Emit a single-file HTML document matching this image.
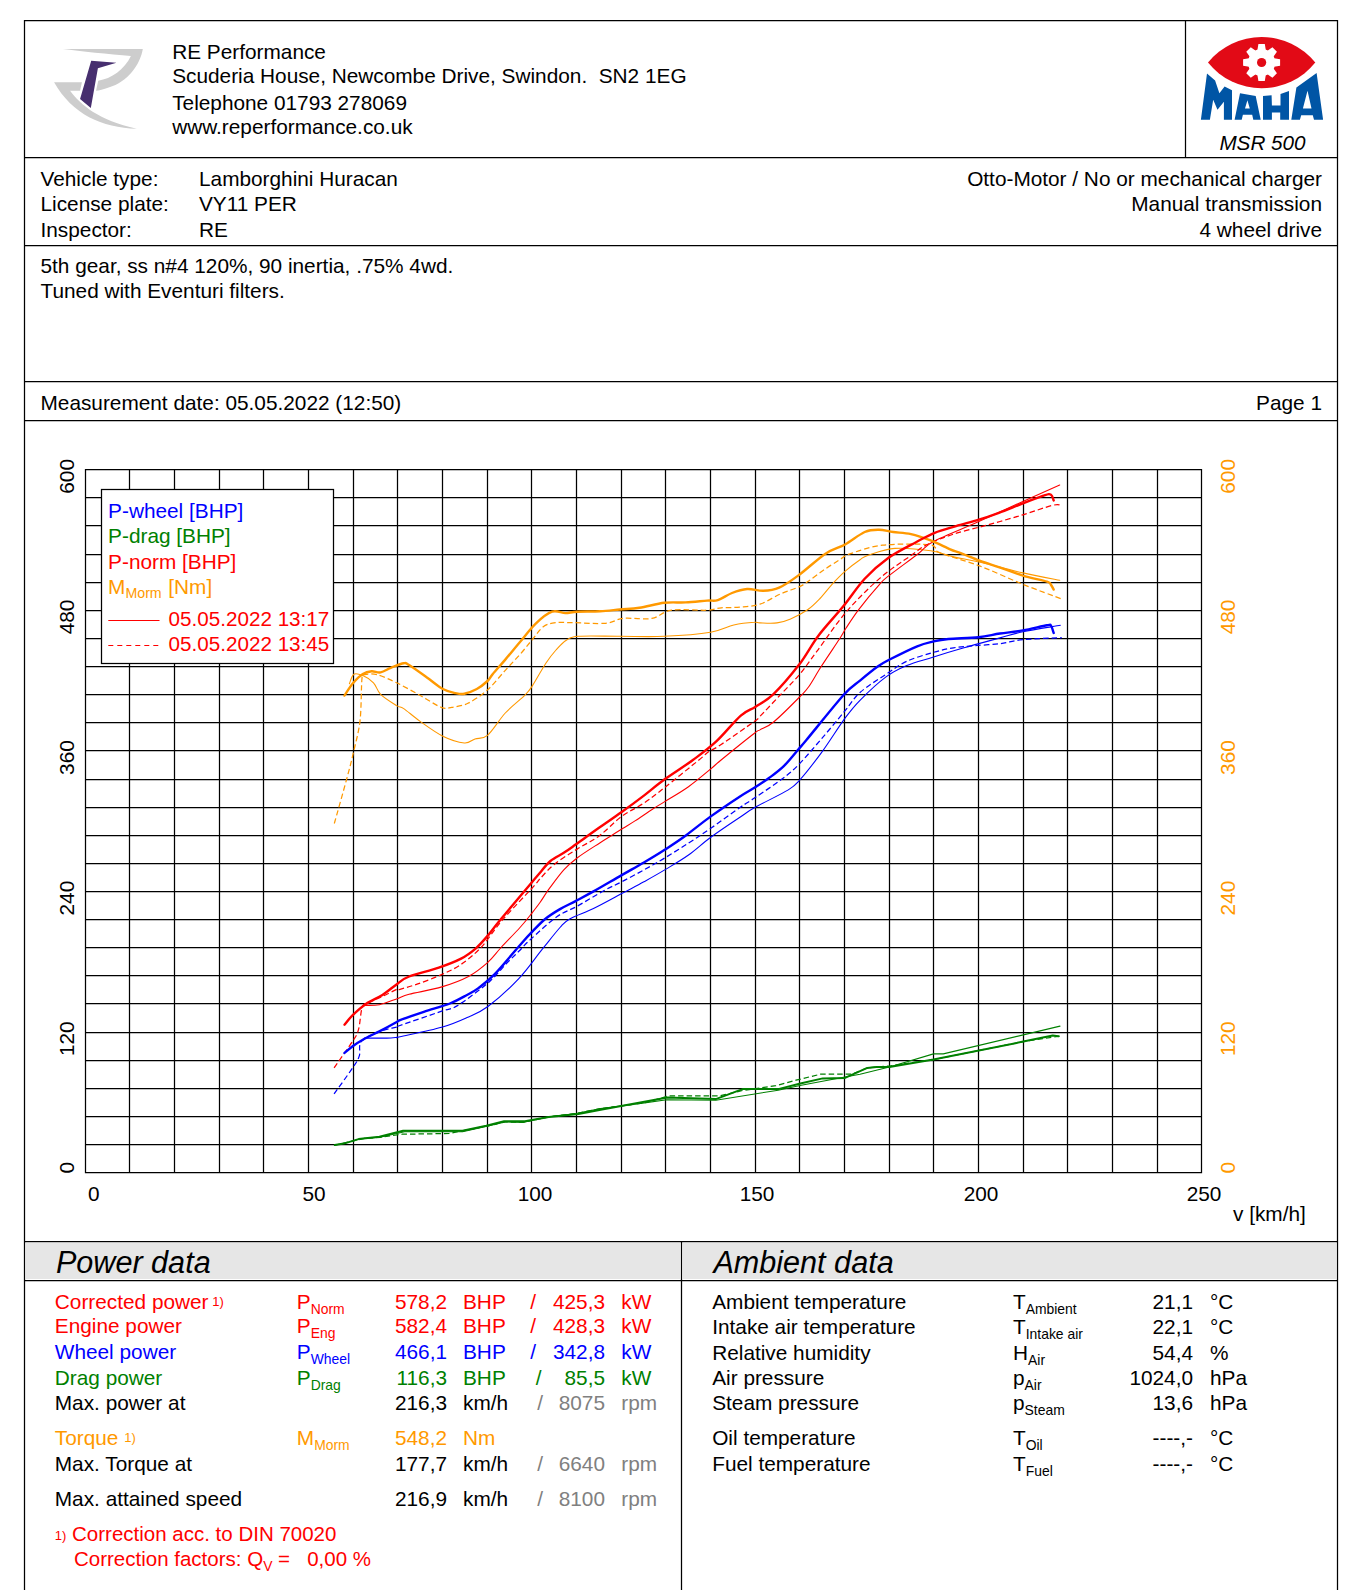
<!DOCTYPE html>
<html><head><meta charset="utf-8"><style>html,body{margin:0;padding:0;background:#fff;width:1347px;height:1590px;overflow:hidden}svg{display:block}text{font-family:"Liberation Sans",sans-serif}</style></head>
<body><svg width="1347" height="1590" viewBox="0 0 1347 1590" font-family="Liberation Sans, sans-serif"><rect x="26" y="1243" width="654" height="36" fill="#e6e6e6"/>
<rect x="683" y="1243" width="653" height="36" fill="#e6e6e6"/>
<line x1="24" y1="20.5" x2="1338" y2="20.5" stroke="#000" stroke-width="1.25"/>
<line x1="24" y1="157.5" x2="1338" y2="157.5" stroke="#000" stroke-width="1.25"/>
<line x1="24" y1="245.5" x2="1338" y2="245.5" stroke="#000" stroke-width="1.25"/>
<line x1="24" y1="381.5" x2="1338" y2="381.5" stroke="#000" stroke-width="1.25"/>
<line x1="24" y1="420.5" x2="1338" y2="420.5" stroke="#000" stroke-width="1.25"/>
<line x1="24" y1="1241.5" x2="1338" y2="1241.5" stroke="#000" stroke-width="1.25"/>
<line x1="24" y1="1280.5" x2="1338" y2="1280.5" stroke="#000" stroke-width="1.25"/>
<line x1="24.5" y1="20" x2="24.5" y2="1590" stroke="#000" stroke-width="1.25"/>
<line x1="1337.5" y1="20" x2="1337.5" y2="1590" stroke="#000" stroke-width="1.25"/>
<line x1="1185.5" y1="20.5" x2="1185.5" y2="157.5" stroke="#000" stroke-width="1.25"/>
<line x1="681.5" y1="1241" x2="681.5" y2="1590" stroke="#000" stroke-width="1.25"/>
<text x="172.2" y="58.8" font-size="20.8" fill="#000">RE Performance</text>
<text x="172.2" y="83.3" font-size="20.8" fill="#000">Scuderia House, Newcombe Drive, Swindon.&#160; SN2 1EG</text>
<text x="172.2" y="110.2" font-size="20.8" fill="#000">Telephone 01793 278069</text>
<text x="172.2" y="134.2" font-size="20.8" fill="#000">www.reperformance.co.uk</text>
<text x="40.5" y="185.8" font-size="20.8" fill="#000">Vehicle type:</text>
<text x="199" y="185.8" font-size="20.8" fill="#000">Lamborghini Huracan</text>
<text x="40.5" y="210.8" font-size="20.8" fill="#000">License plate:</text>
<text x="199" y="210.8" font-size="20.8" fill="#000">VY11 PER</text>
<text x="40.5" y="236.6" font-size="20.8" fill="#000">Inspector:</text>
<text x="199" y="236.6" font-size="20.8" fill="#000">RE</text>
<text x="1322" y="185.8" font-size="20.8" fill="#000" text-anchor="end">Otto-Motor / No or mechanical charger</text>
<text x="1322" y="210.8" font-size="20.8" fill="#000" text-anchor="end">Manual transmission</text>
<text x="1322" y="236.6" font-size="20.8" fill="#000" text-anchor="end">4 wheel drive</text>
<text x="40.5" y="273" font-size="20.8" fill="#000">5th gear, ss n#4 120%, 90 inertia, .75% 4wd.</text>
<text x="40.5" y="298.1" font-size="20.8" fill="#000">Tuned with Eventuri filters.</text>
<text x="40.5" y="409.8" font-size="20.8" fill="#000">Measurement date: 05.05.2022 (12:50)</text>
<text x="1322" y="409.8" font-size="20.8" fill="#000" text-anchor="end">Page 1</text>
<path d="M85.5 469.5V1172.5M129.5 469.5V1172.5M174.5 469.5V1172.5M219.5 469.5V1172.5M263.5 469.5V1172.5M308.5 469.5V1172.5M353.5 469.5V1172.5M397.5 469.5V1172.5M442.5 469.5V1172.5M487.5 469.5V1172.5M531.5 469.5V1172.5M576.5 469.5V1172.5M621.5 469.5V1172.5M665.5 469.5V1172.5M710.5 469.5V1172.5M755.5 469.5V1172.5M799.5 469.5V1172.5M844.5 469.5V1172.5M889.5 469.5V1172.5M933.5 469.5V1172.5M978.5 469.5V1172.5M1023.5 469.5V1172.5M1067.5 469.5V1172.5M1112.5 469.5V1172.5M1157.5 469.5V1172.5M1201.5 469.5V1172.5M85.5 469.5H1201.5M85.5 497.5H1201.5M85.5 525.5H1201.5M85.5 554.5H1201.5M85.5 582.5H1201.5M85.5 610.5H1201.5M85.5 638.5H1201.5M85.5 666.5H1201.5M85.5 694.5H1201.5M85.5 722.5H1201.5M85.5 750.5H1201.5M85.5 779.5H1201.5M85.5 807.5H1201.5M85.5 835.5H1201.5M85.5 863.5H1201.5M85.5 891.5H1201.5M85.5 919.5H1201.5M85.5 947.5H1201.5M85.5 975.5H1201.5M85.5 1003.5H1201.5M85.5 1032.5H1201.5M85.5 1060.5H1201.5M85.5 1088.5H1201.5M85.5 1116.5H1201.5M85.5 1144.5H1201.5M85.5 1172.5H1201.5" stroke="#000" stroke-width="1.25" fill="none" stroke-linecap="square"/>
<text x="93.8" y="1200.5" font-size="20.8" fill="#000" text-anchor="middle">0</text>
<text x="314" y="1200.5" font-size="20.8" fill="#000" text-anchor="middle">50</text>
<text x="535" y="1200.5" font-size="20.8" fill="#000" text-anchor="middle">100</text>
<text x="757" y="1200.5" font-size="20.8" fill="#000" text-anchor="middle">150</text>
<text x="981" y="1200.5" font-size="20.8" fill="#000" text-anchor="middle">200</text>
<text x="1204" y="1200.5" font-size="20.8" fill="#000" text-anchor="middle">250</text>
<text x="1233" y="1221" font-size="20.8" fill="#000">v [km/h]</text>
<text transform="translate(74,1162.0) rotate(-90)" font-size="20.8" text-anchor="end">0</text>
<text transform="translate(1235,1162.0) rotate(-90)" font-size="20.8" fill="#ff9900" text-anchor="end">0</text>
<text transform="translate(74,1021.4) rotate(-90)" font-size="20.8" text-anchor="end">120</text>
<text transform="translate(1235,1021.4) rotate(-90)" font-size="20.8" fill="#ff9900" text-anchor="end">120</text>
<text transform="translate(74,880.8) rotate(-90)" font-size="20.8" text-anchor="end">240</text>
<text transform="translate(1235,880.8) rotate(-90)" font-size="20.8" fill="#ff9900" text-anchor="end">240</text>
<text transform="translate(74,740.2) rotate(-90)" font-size="20.8" text-anchor="end">360</text>
<text transform="translate(1235,740.2) rotate(-90)" font-size="20.8" fill="#ff9900" text-anchor="end">360</text>
<text transform="translate(74,599.6) rotate(-90)" font-size="20.8" text-anchor="end">480</text>
<text transform="translate(1235,599.6) rotate(-90)" font-size="20.8" fill="#ff9900" text-anchor="end">480</text>
<text transform="translate(74,459.0) rotate(-90)" font-size="20.8" text-anchor="end">600</text>
<text transform="translate(1235,459.0) rotate(-90)" font-size="20.8" fill="#ff9900" text-anchor="end">600</text>
<g fill="none" stroke-linejoin="round" stroke-linecap="round">
<path d="M349.4 683.7 C350.1 682.1 351.7 675.6 353.9 674.2 C356.1 672.9 359.5 674.2 362.8 675.6 C366.1 677.0 370.5 679.7 373.5 682.8 C376.5 685.9 376.8 690.5 380.6 694.3 C384.5 698.1 392.8 703.2 396.6 705.6 C400.5 708.0 399.8 706.0 403.7 708.6 C407.6 711.2 413.3 716.5 419.8 721.1 C426.3 725.7 435.5 732.6 442.9 736.2 C450.3 739.9 458.9 742.5 464.3 743.0 C469.7 743.5 471.1 740.2 475.0 738.9 C478.9 737.6 482.4 739.6 487.5 735.3 C492.6 731.0 499.1 719.7 505.3 713.0 C511.5 706.3 520.4 699.8 524.9 695.2 C529.4 690.6 529.0 691.0 532.5 685.6 C536.0 680.2 542.1 668.9 546.0 663.0 C549.9 657.1 552.6 653.8 556.0 650.0 C559.4 646.2 562.5 642.5 566.3 640.2 C570.1 637.9 569.9 636.9 578.8 636.3 C587.7 635.6 605.5 636.3 619.8 636.3 C634.0 636.3 649.2 637.0 664.3 636.3 C679.4 635.6 699.0 634.1 710.6 632.2 C722.2 630.3 726.5 626.6 733.8 625.0 C741.1 623.4 749.9 622.6 754.3 622.3 C758.7 621.9 756.2 622.8 760.0 622.9 C763.8 623.0 771.9 623.6 777.0 622.9 C782.1 622.2 785.5 621.1 790.6 618.9 C795.7 616.7 802.7 613.2 807.6 609.8 C812.5 606.4 815.7 603.0 820.0 598.5 C824.3 594.0 829.4 587.1 833.6 582.6 C837.8 578.1 840.6 575.1 845.0 571.3 C849.4 567.5 855.8 562.7 859.7 560.0 C863.6 557.3 862.4 557.1 868.3 555.2 C874.2 553.3 884.6 549.1 895.0 548.4 C905.4 547.7 921.0 549.4 930.7 550.8 C940.5 552.2 945.2 555.0 953.5 556.9 C961.8 558.8 968.6 559.5 980.2 562.2 C991.8 564.9 1009.6 569.9 1022.9 572.9 C1036.2 575.9 1053.6 579.1 1059.7 580.3" stroke="#ff9900" stroke-width="1.1"/>
<path d="M364.5 1005.4 C367.0 1005.3 373.9 1005.8 379.4 1004.7 C384.8 1003.6 392.2 1000.4 397.2 998.7 C402.1 997.0 401.7 996.3 409.1 994.3 C416.5 992.3 431.9 989.9 441.8 986.9 C451.7 983.9 460.8 980.6 468.5 976.5 C476.2 972.4 482.4 967.2 487.8 962.4 C493.2 957.6 495.7 953.3 501.1 947.5 C506.5 941.7 515.0 933.0 520.0 927.5 C525.0 922.0 527.6 918.6 530.9 914.4 C534.2 910.2 537.0 906.7 540.0 902.5 C543.0 898.3 544.9 894.6 548.9 889.2 C552.9 883.8 559.1 875.1 563.8 869.9 C568.5 864.7 571.2 862.5 577.1 858.0 C583.0 853.5 593.7 846.9 599.4 843.2 C605.1 839.5 607.3 838.2 611.3 835.7 C615.2 833.2 619.1 830.8 623.1 828.3 C627.1 825.8 630.0 824.1 635.0 820.9 C640.0 817.7 647.8 812.2 652.8 809.0 C657.8 805.8 658.8 805.3 664.7 801.6 C670.7 797.9 680.8 792.2 688.5 786.7 C696.2 781.2 705.4 773.4 710.8 768.9 C716.2 764.4 713.9 765.9 721.1 760.0 C728.3 754.1 747.6 738.5 754.1 733.5 C760.6 728.5 756.8 731.8 760.0 729.9 C763.2 728.0 767.0 727.5 773.6 722.0 C780.2 716.5 793.8 702.9 799.6 697.0 C805.5 691.1 805.1 691.9 808.7 686.8 C812.3 681.7 816.1 674.4 821.2 666.5 C826.3 658.6 835.1 645.7 839.3 639.3 C843.4 632.9 842.9 632.9 846.1 628.0 C849.3 623.1 852.9 617.2 858.5 609.8 C864.1 602.4 874.8 589.6 880.0 583.8 C885.2 578.0 883.3 580.1 889.7 575.1 C896.1 570.1 910.9 559.3 918.2 553.7 C925.5 548.1 923.3 546.9 933.4 541.5 C943.5 536.1 963.9 528.2 978.8 521.5 C993.7 514.8 1009.4 507.5 1022.9 501.4 C1036.4 495.3 1053.6 487.7 1059.7 485.0" stroke="#ff0000" stroke-width="1.1"/>
<path d="M364.5 1038.1 C368.2 1038.1 381.4 1038.2 386.8 1038.1 C392.2 1038.0 395.0 1037.5 397.2 1037.3 C399.4 1037.1 392.6 1038.5 400.0 1036.8 C407.4 1035.1 430.5 1030.5 441.6 1027.3 C452.7 1024.1 458.8 1021.3 466.5 1017.8 C474.2 1014.3 479.2 1013.0 487.9 1006.5 C496.6 1000.0 509.7 988.2 518.8 978.6 C527.9 969.0 535.6 957.4 542.5 948.9 C549.4 940.4 555.5 932.5 560.0 927.5 C564.5 922.5 564.1 922.1 569.7 918.9 C575.3 915.7 584.8 912.7 593.5 908.5 C602.2 904.3 613.3 898.1 621.7 893.6 C630.1 889.1 636.7 885.8 643.9 881.8 C651.1 877.8 657.3 874.4 664.7 869.9 C672.1 865.4 680.8 860.5 688.5 855.0 C696.2 849.5 702.2 843.5 710.8 837.2 C719.4 830.9 732.5 822.2 740.0 817.2 C747.5 812.2 747.6 811.5 755.6 807.0 C763.6 802.5 780.9 794.5 788.3 789.9 C795.7 785.3 794.5 785.9 800.2 779.5 C805.9 773.1 815.0 761.4 822.4 751.3 C829.8 741.1 838.4 727.1 844.7 718.6 C851.0 710.1 853.1 707.2 860.0 700.3 C866.9 693.3 878.2 682.7 886.0 676.9 C893.8 671.1 899.0 668.8 906.8 665.5 C914.6 662.2 923.3 660.2 932.8 657.2 C942.3 654.2 952.8 651.0 964.0 647.8 C975.2 644.6 990.2 640.6 1000.0 637.9 C1009.8 635.2 1012.8 633.8 1022.9 631.7 C1033.0 629.6 1054.2 626.4 1060.4 625.3" stroke="#0000ff" stroke-width="1.1"/>
<path d="M364.5 1138.4 L380.1 1137.3 L404.6 1131.8 L462.5 1131.8 L489.3 1125.7 L504.9 1121.9 L522.7 1122.4 L549.4 1116.8 L576.1 1113.5 L600.6 1108.6 L622.3 1105.8 L644.5 1102.9 L666.8 1099.7 L715.8 1100.2 L778.2 1090.2 L800.0 1085.5 L845.0 1077.0 L860.0 1074.3 L889.4 1067.0 L933.5 1053.9 L943.3 1053.9 L1060.0 1026.1" stroke="#008000" stroke-width="1.1"/>
<path d="M334.3 823.5 C336.4 816.1 343.4 791.2 346.7 779.0 C350.0 766.8 351.7 760.3 353.9 750.5 C356.1 740.7 358.8 732.1 360.1 720.2 C361.4 708.3 361.2 686.8 361.9 679.2 C362.6 671.6 362.0 675.5 364.5 674.7 C367.0 674.0 371.6 673.4 377.0 674.7 C382.4 676.1 389.5 679.4 396.6 682.8 C403.7 686.2 412.4 691.1 419.8 695.2 C427.2 699.3 435.9 705.3 441.2 707.3 C446.5 709.3 447.4 708.0 451.8 707.3 C456.2 706.6 461.9 706.2 467.9 703.3 C473.8 700.4 481.3 695.4 487.5 689.9 C493.7 684.4 499.9 676.2 505.3 670.3 C510.7 664.4 515.5 659.4 520.0 654.4 C524.5 649.4 528.1 644.6 532.0 640.0 C535.9 635.4 539.3 629.7 543.2 626.8 C547.1 623.9 550.6 623.4 555.6 622.7 C560.6 622.0 565.2 622.6 573.5 622.7 C581.8 622.8 597.2 624.0 605.5 623.3 C613.8 622.6 615.6 619.2 623.3 618.4 C631.0 617.6 643.8 619.8 651.8 618.4 C659.8 617.0 662.2 611.6 671.4 610.2 C680.6 608.8 698.8 610.6 707.1 610.2 C715.4 609.8 715.8 608.3 721.3 607.8 C726.8 607.3 733.5 607.8 740.0 607.2 C746.5 606.6 753.3 606.4 760.0 604.2 C766.7 602.0 773.8 596.9 780.4 594.0 C787.0 591.1 794.9 588.8 799.6 586.6 C804.3 584.4 804.7 583.7 808.7 581.0 C812.7 578.3 818.3 573.7 823.4 570.2 C828.5 566.7 834.8 562.8 839.3 560.0 C843.8 557.2 843.3 556.2 850.5 553.7 C857.7 551.2 869.7 546.7 882.5 545.2 C895.3 543.7 918.2 544.0 927.1 544.5 C936.0 545.0 933.8 547.0 936.0 548.4 C938.2 549.8 932.7 549.9 940.1 552.9 C947.5 555.9 966.4 561.0 980.2 566.2 C994.0 571.4 1009.3 578.8 1022.9 584.3 C1036.5 589.8 1055.2 596.5 1061.7 599.0" stroke="#ff9900" stroke-width="1.25" stroke-dasharray="5.5 3" stroke-linecap="butt"/>
<path d="M334.1 1067.8 C337.2 1063.3 348.6 1047.5 352.7 1041.1 C356.8 1034.7 357.0 1034.9 358.6 1029.2 C360.2 1023.5 360.6 1011.4 362.3 1006.9 C364.0 1002.4 365.6 1004.1 369.0 1002.4 C372.4 1000.7 377.7 998.7 382.4 996.5 C387.1 994.3 394.3 990.3 397.2 989.1 C400.1 987.9 396.6 990.2 400.0 989.3 C403.4 988.4 411.3 986.2 417.8 983.9 C424.3 981.6 432.3 978.7 439.2 975.6 C446.1 972.5 452.5 970.1 459.4 965.5 C466.3 960.9 473.7 955.2 480.8 947.7 C487.9 940.2 493.4 930.5 502.1 920.4 C510.8 910.3 526.7 894.0 533.0 887.1 C539.3 880.2 536.4 882.7 540.0 878.8 C543.6 874.9 548.6 868.8 554.8 863.9 C561.0 859.0 569.7 853.8 577.1 849.1 C584.5 844.4 592.0 841.2 599.4 835.7 C606.8 830.2 614.3 821.8 621.7 816.4 C629.1 811.0 636.7 807.9 643.9 803.1 C651.1 798.3 655.5 794.7 664.7 787.5 C673.9 780.3 691.5 766.0 698.9 760.0 C706.3 754.0 705.4 754.0 708.9 751.5 C712.4 749.0 712.5 750.3 720.0 745.3 C727.5 740.3 747.4 726.4 754.1 721.6 C760.8 716.8 755.6 720.8 760.0 716.3 C764.4 711.8 773.8 701.8 780.4 694.8 C787.0 687.8 793.6 681.6 799.6 674.4 C805.6 667.2 808.9 662.1 816.6 651.7 C824.4 641.3 835.5 624.4 846.1 612.1 C856.7 599.8 869.2 587.5 880.0 578.1 C890.8 568.7 903.2 561.0 911.0 555.5 C918.8 550.0 919.6 548.4 926.7 544.8 C933.8 541.2 943.2 537.4 953.5 534.1 C963.8 530.8 976.6 528.0 988.2 524.8 C999.8 521.6 1012.2 518.0 1022.9 514.8 C1033.6 511.6 1045.8 507.0 1052.3 505.4 C1058.8 503.8 1060.1 505.4 1061.7 505.4" stroke="#ff0000" stroke-width="1.25" stroke-dasharray="5.5 3" stroke-linecap="butt"/>
<path d="M334.1 1093.8 C337.2 1089.5 348.5 1074.1 352.7 1067.8 C356.9 1061.5 357.8 1060.4 359.3 1055.9 C360.8 1051.5 357.8 1045.3 361.6 1041.1 C365.5 1036.9 376.5 1033.0 382.4 1030.7 C388.3 1028.4 394.3 1027.9 397.2 1027.0 C400.1 1026.1 392.6 1028.1 400.0 1025.5 C407.4 1022.9 432.1 1014.5 441.6 1011.2 C451.1 1007.9 450.1 1010.0 457.0 1005.9 C463.9 1001.8 476.8 991.8 483.1 986.9 C489.4 982.0 491.0 980.2 495.0 976.2 C499.0 972.2 502.9 967.2 506.9 963.1 C510.9 959.0 514.8 955.2 518.8 951.3 C522.8 947.3 524.3 945.1 530.6 939.4 C536.9 933.6 549.0 922.3 556.8 916.8 C564.5 911.3 569.3 910.6 577.1 906.3 C584.9 901.9 596.4 894.8 603.8 890.7 C611.2 886.6 615.0 885.3 621.7 881.8 C628.4 878.3 636.7 873.9 643.9 869.9 C651.1 865.9 657.3 862.5 664.7 858.0 C672.1 853.5 680.8 848.1 688.5 843.1 C696.2 838.1 702.2 834.2 710.8 828.3 C719.4 822.4 732.5 812.7 740.0 807.5 C747.5 802.3 748.5 802.1 755.6 797.3 C762.7 792.5 775.2 784.2 782.4 778.7 C789.6 773.2 792.3 771.2 798.7 764.6 C805.1 758.0 813.3 748.3 821.0 739.4 C828.7 730.5 838.2 719.0 844.7 711.2 C851.2 703.4 853.1 698.6 860.0 692.5 C866.9 686.4 878.2 679.5 886.0 674.3 C893.8 669.1 899.0 664.9 906.8 661.3 C914.6 657.7 925.0 654.8 932.8 652.5 C940.6 650.2 946.7 648.9 953.6 647.8 C960.5 646.7 966.6 646.4 974.3 645.7 C982.0 645.0 991.9 644.7 1000.0 643.7 C1008.1 642.7 1012.6 640.7 1022.9 639.7 C1033.2 638.7 1055.2 638.0 1061.7 637.7" stroke="#0000ff" stroke-width="1.25" stroke-dasharray="5.5 3" stroke-linecap="butt"/>
<path d="M334.5 1145.3 L344.5 1142.9 L364.5 1138.4 L380.1 1137.3 L402.4 1134.2 L449.2 1133.5 L462.5 1130.8 L489.3 1125.7 L504.9 1121.9 L522.7 1122.4 L549.4 1116.8 L576.1 1113.5 L600.6 1108.6 L622.3 1105.8 L644.5 1102.9 L669.0 1095.8 L720.3 1095.8 L742.5 1090.5 L776.0 1085.7 L796.0 1080.2 L820.5 1074.2 L851.7 1074.2 L867.3 1067.9 L889.4 1066.0 L933.5 1059.6 L1023.3 1041.6 L1061.0 1036.0" stroke="#008000" stroke-width="1.25" stroke-dasharray="5.5 3" stroke-linecap="butt"/>
<path d="M344.4 695.6 C345.9 693.5 350.2 686.4 353.3 682.8 C356.4 679.2 359.7 675.8 362.8 673.9 C365.9 672.0 368.7 671.5 371.7 671.2 C374.7 671.0 377.3 673.0 380.6 672.4 C383.9 671.8 387.5 669.1 391.3 667.6 C395.1 666.1 400.7 663.6 403.7 663.2 C406.7 662.8 405.2 662.6 409.1 665.0 C413.0 667.4 421.3 673.4 426.9 677.4 C432.5 681.4 438.1 686.4 442.9 689.0 C447.6 691.6 451.8 692.3 455.4 693.1 C459.0 693.9 460.7 694.5 464.3 693.8 C467.9 693.1 472.9 691.1 476.8 689.0 C480.7 686.9 484.8 683.5 487.5 681.0 C490.2 678.5 489.8 677.5 492.8 673.9 C495.8 670.3 500.8 664.9 505.3 659.6 C509.8 654.3 514.9 648.0 520.0 642.0 C525.1 636.0 530.6 628.3 536.0 623.3 C541.4 618.2 547.2 613.4 552.1 611.7 C557.0 610.0 561.2 613.1 565.4 613.1 C569.5 613.1 571.2 612.0 577.0 611.7 C582.8 611.4 593.1 611.7 600.2 611.3 C607.3 610.9 613.3 610.1 619.8 609.5 C626.3 608.9 632.0 608.9 639.4 607.8 C646.8 606.7 656.6 603.7 664.3 602.8 C672.0 601.9 678.6 602.8 685.7 602.4 C692.8 602.0 701.8 601.0 707.1 600.6 C712.5 600.2 713.6 601.4 717.8 600.1 C721.9 598.8 727.1 594.9 732.0 593.0 C736.9 591.1 741.9 589.4 747.1 589.0 C752.3 588.6 757.9 591.0 763.2 590.8 C768.6 590.6 773.3 590.2 779.2 587.6 C785.1 585.0 791.1 580.8 798.8 575.1 C806.5 569.5 817.8 558.8 825.5 553.7 C833.2 548.6 838.6 548.1 845.1 544.5 C851.6 540.9 859.1 534.5 864.7 532.0 C870.4 529.5 874.2 529.7 879.0 529.7 C883.8 529.7 887.9 531.3 893.2 532.0 C898.5 532.7 904.8 532.7 911.0 534.1 C917.2 535.5 924.1 537.9 930.6 540.4 C937.1 542.9 945.3 547.2 950.2 549.3 C955.1 551.4 955.1 551.0 960.1 552.9 C965.1 554.8 973.5 558.4 980.2 560.9 C986.9 563.4 993.1 565.1 1000.2 567.6 C1007.3 570.1 1015.1 573.3 1022.9 575.6 C1030.7 577.9 1042.3 580.1 1047.0 581.6 C1051.7 583.1 1049.9 583.6 1051.0 584.9 C1052.1 586.2 1053.2 588.8 1053.7 589.6" stroke="#ff9900" stroke-width="2.4"/>
<path d="M344.5 1024.7 C345.9 1023.1 349.1 1018.6 352.7 1015.1 C356.3 1011.6 361.1 1007.2 366.0 1003.9 C370.9 1000.5 377.2 998.3 382.4 995.0 C387.6 991.7 392.8 987.0 397.2 983.9 C401.6 980.8 402.2 979.2 409.1 976.5 C416.0 973.8 430.1 970.6 438.8 967.6 C447.5 964.6 454.9 961.8 461.1 958.6 C467.3 955.4 471.4 952.1 475.9 948.3 C480.3 944.5 483.8 940.3 487.8 935.6 C491.8 930.9 492.8 928.9 500.0 920.2 C507.2 911.5 524.2 891.4 530.9 883.5 C537.6 875.6 536.8 876.5 540.0 872.8 C543.2 869.0 546.4 864.3 550.4 861.0 C554.4 857.7 559.6 855.5 563.8 852.8 C568.0 850.1 569.7 848.8 575.6 844.6 C581.5 840.4 591.7 833.0 599.4 827.6 C607.1 822.2 614.3 817.3 621.7 812.0 C629.1 806.7 636.7 801.1 643.9 795.6 C651.1 790.1 656.5 785.2 664.7 779.3 C672.9 773.4 684.4 766.3 692.9 760.0 C701.4 753.7 708.0 749.1 716.0 741.7 C724.0 734.3 734.2 721.4 740.8 715.6 C747.4 709.8 750.1 710.3 755.6 706.7 C761.1 703.1 766.3 701.0 773.5 694.1 C780.7 687.2 791.3 674.8 798.8 665.1 C806.3 655.4 811.0 645.5 818.4 635.7 C825.8 625.9 835.6 615.8 843.3 606.3 C851.0 596.8 857.3 586.7 864.7 578.7 C872.1 570.7 879.4 564.3 887.9 558.2 C896.4 552.1 908.2 546.4 916.0 542.2 C923.8 538.0 928.0 535.5 934.7 532.8 C941.4 530.1 948.8 528.3 956.1 526.1 C963.5 523.9 971.7 521.9 978.8 519.7 C985.9 517.5 991.5 515.5 998.9 512.8 C1006.2 510.1 1015.3 506.3 1022.9 503.4 C1030.5 500.5 1039.6 496.8 1044.3 495.4 C1049.0 493.9 1049.4 493.8 1051.0 494.7 C1052.6 495.6 1053.2 499.5 1053.7 500.5" stroke="#ff0000" stroke-width="2.4"/>
<path d="M344.5 1052.9 C345.9 1051.8 349.4 1048.7 352.7 1046.3 C356.0 1043.9 360.1 1041.3 364.5 1038.8 C368.9 1036.3 373.9 1034.2 379.4 1031.4 C384.8 1028.6 393.8 1023.7 397.2 1021.8 C400.6 1019.9 395.6 1021.8 400.0 1020.1 C404.4 1018.4 415.5 1014.6 423.8 1011.8 C432.1 1009.0 442.8 1006.3 449.9 1003.5 C457.0 1000.7 461.8 997.8 466.5 995.2 C471.2 992.6 473.6 991.7 478.4 988.1 C483.1 984.5 488.3 980.7 495.0 973.8 C501.7 966.9 512.9 953.2 518.8 946.5 C524.7 939.8 526.2 937.9 530.6 933.4 C535.0 928.9 540.0 923.2 544.9 919.2 C549.8 915.2 554.9 912.1 560.0 909.1 C565.1 906.1 570.0 904.1 575.6 901.1 C581.2 898.1 585.8 895.7 593.5 891.4 C601.2 887.1 613.3 879.9 621.7 875.1 C630.1 870.3 636.7 866.7 643.9 862.5 C651.1 858.3 657.8 854.3 664.7 849.8 C671.6 845.3 677.8 841.3 685.5 835.7 C693.2 830.1 701.7 823.0 710.8 816.4 C719.9 809.8 732.5 801.3 740.0 796.4 C747.5 791.5 750.8 790.0 755.6 786.9 C760.4 783.8 764.3 781.5 769.0 778.0 C773.7 774.5 778.8 770.9 783.8 766.1 C788.8 761.3 794.9 753.4 798.7 749.0 C802.5 744.6 798.9 749.0 806.4 740.0 C813.9 731.0 834.9 704.7 843.8 694.8 C852.7 684.9 854.4 685.3 860.0 680.6 C865.6 675.9 872.7 670.0 877.7 666.5 C882.7 663.0 883.5 662.7 890.1 659.3 C896.7 655.9 910.1 649.2 917.2 646.3 C924.3 643.3 927.6 642.8 932.8 641.6 C938.0 640.4 940.8 639.7 948.4 639.0 C956.0 638.3 969.9 638.1 978.5 637.2 C987.1 636.3 992.6 634.6 1000.0 633.5 C1007.4 632.4 1015.1 631.8 1022.9 630.4 C1030.7 629.0 1042.3 626.1 1047.0 625.3 C1051.7 624.5 1049.9 624.4 1051.0 625.7 C1052.1 627.0 1053.2 631.8 1053.7 633.0" stroke="#0000ff" stroke-width="2.4"/>
<path d="M334.8 1145.1 L343.8 1143.6 L358.6 1139.1 L379.4 1136.8 L403.1 1130.8 L462.5 1130.8 L486.3 1125.8 L504.1 1121.3 L524.9 1121.3 L548.7 1116.9 L578.4 1113.9 L602.1 1109.4 L634.8 1103.5 L667.4 1097.6 L715.8 1099.1 L742.5 1089.1 L778.2 1089.1 L800.4 1083.5 L822.7 1078.4 L845.0 1077.9 L867.3 1067.9 L876.3 1067.0 L889.4 1067.0 L933.5 1059.6 L1023.3 1041.6 L1052.7 1035.6 L1058.4 1036.3" stroke="#008000" stroke-width="2.0"/>
</g>
<rect x="101.5" y="489.5" width="232" height="174" fill="#fff" stroke="#000" stroke-width="1.25"/>
<text x="108.1" y="518" font-size="20.8" fill="#0000ff">P-wheel [BHP]</text>
<text x="108.1" y="543.1" font-size="20.8" fill="#008000">P-drag [BHP]</text>
<text x="108.1" y="568.5" font-size="20.8" fill="#ff0000">P-norm [BHP]</text>
<text x="108.1" y="593.6" font-size="20.8" fill="#ff9900">M<tspan font-size="14.2" dy="4.5">Morm</tspan><tspan dy="-4.5" dx="0.8"> [Nm]</tspan></text>
<line x1="108.3" y1="620.5" x2="159.5" y2="620.5" stroke="#ff0000" stroke-width="1.2"/>
<line x1="108.3" y1="645.5" x2="159.5" y2="645.5" stroke="#ff0000" stroke-width="1.2" stroke-dasharray="5 4"/>
<text x="168.6" y="626.4" font-size="20.65" fill="#ff0000">05.05.2022 13:17</text>
<text x="168.6" y="651.3" font-size="20.65" fill="#ff0000">05.05.2022 13:45</text>
<text x="55.9" y="1272.7" font-size="30.6" fill="#000" font-style="italic">Power data</text>
<text x="713.4" y="1272.7" font-size="30.6" fill="#000" font-style="italic">Ambient data</text>
<text x="54.8" y="1308.5" font-size="20.8" fill="#ff0000">Corrected power <tspan font-size="13" dx="-2" dy="-2.5">1)</tspan></text>
<text x="296.8" y="1308.5" font-size="20.8" fill="#ff0000">P<tspan font-size="13.9" dy="5">Norm</tspan></text>
<text x="447" y="1308.5" font-size="20.8" fill="#ff0000" text-anchor="end">578,2</text>
<text x="463" y="1308.5" font-size="20.8" fill="#ff0000">BHP</text>
<text x="536" y="1308.5" font-size="20.8" fill="#ff0000" text-anchor="end">/</text>
<text x="605" y="1308.5" font-size="20.8" fill="#ff0000" text-anchor="end">425,3</text>
<text x="621.3" y="1308.5" font-size="20.8" fill="#ff0000">kW</text>
<text x="54.8" y="1333.2" font-size="20.8" fill="#ff0000">Engine power</text>
<text x="296.8" y="1333.2" font-size="20.8" fill="#ff0000">P<tspan font-size="13.9" dy="5">Eng</tspan></text>
<text x="447" y="1333.2" font-size="20.8" fill="#ff0000" text-anchor="end">582,4</text>
<text x="463" y="1333.2" font-size="20.8" fill="#ff0000">BHP</text>
<text x="536" y="1333.2" font-size="20.8" fill="#ff0000" text-anchor="end">/</text>
<text x="605" y="1333.2" font-size="20.8" fill="#ff0000" text-anchor="end">428,3</text>
<text x="621.3" y="1333.2" font-size="20.8" fill="#ff0000">kW</text>
<text x="54.8" y="1358.6" font-size="20.8" fill="#0000ff">Wheel power</text>
<text x="296.8" y="1358.6" font-size="20.8" fill="#0000ff">P<tspan font-size="13.9" dy="5">Wheel</tspan></text>
<text x="447" y="1358.6" font-size="20.8" fill="#0000ff" text-anchor="end">466,1</text>
<text x="463" y="1358.6" font-size="20.8" fill="#0000ff">BHP</text>
<text x="536" y="1358.6" font-size="20.8" fill="#0000ff" text-anchor="end">/</text>
<text x="605" y="1358.6" font-size="20.8" fill="#0000ff" text-anchor="end">342,8</text>
<text x="621.3" y="1358.6" font-size="20.8" fill="#0000ff">kW</text>
<text x="54.8" y="1385.4" font-size="20.8" fill="#008000">Drag power</text>
<text x="296.8" y="1385.4" font-size="20.8" fill="#008000">P<tspan font-size="13.9" dy="5">Drag</tspan></text>
<text x="447" y="1385.4" font-size="20.8" fill="#008000" text-anchor="end">116,3</text>
<text x="463" y="1385.4" font-size="20.8" fill="#008000">BHP</text>
<text x="541.5" y="1385.4" font-size="20.8" fill="#008000" text-anchor="end">/</text>
<text x="605" y="1385.4" font-size="20.8" fill="#008000" text-anchor="end">85,5</text>
<text x="621.3" y="1385.4" font-size="20.8" fill="#008000">kW</text>
<text x="54.8" y="1410.2" font-size="20.8" fill="#000">Max. power at</text>
<text x="447" y="1410.2" font-size="20.8" fill="#000" text-anchor="end">216,3</text>
<text x="463" y="1410.2" font-size="20.8" fill="#000">km/h</text>
<text x="543" y="1410.2" font-size="20.8" fill="#808080" text-anchor="end">/</text>
<text x="605" y="1410.2" font-size="20.8" fill="#808080" text-anchor="end">8075</text>
<text x="621.3" y="1410.2" font-size="20.8" fill="#808080">rpm</text>
<text x="54.8" y="1444.8" font-size="20.8" fill="#ff9900">Torque <tspan font-size="13" dy="-2.5">1)</tspan></text>
<text x="296.8" y="1444.8" font-size="20.8" fill="#ff9900">M<tspan font-size="13.9" dy="5">Morm</tspan></text>
<text x="447" y="1444.8" font-size="20.8" fill="#ff9900" text-anchor="end">548,2</text>
<text x="463" y="1444.8" font-size="20.8" fill="#ff9900">Nm</text>
<text x="54.8" y="1471.2" font-size="20.8" fill="#000">Max. Torque at</text>
<text x="447" y="1471.2" font-size="20.8" fill="#000" text-anchor="end">177,7</text>
<text x="463" y="1471.2" font-size="20.8" fill="#000">km/h</text>
<text x="543" y="1471.2" font-size="20.8" fill="#808080" text-anchor="end">/</text>
<text x="605" y="1471.2" font-size="20.8" fill="#808080" text-anchor="end">6640</text>
<text x="621.3" y="1471.2" font-size="20.8" fill="#808080">rpm</text>
<text x="54.8" y="1505.8" font-size="20.8" fill="#000">Max. attained speed</text>
<text x="447" y="1505.8" font-size="20.8" fill="#000" text-anchor="end">216,9</text>
<text x="463" y="1505.8" font-size="20.8" fill="#000">km/h</text>
<text x="543" y="1505.8" font-size="20.8" fill="#808080" text-anchor="end">/</text>
<text x="605" y="1505.8" font-size="20.8" fill="#808080" text-anchor="end">8100</text>
<text x="621.3" y="1505.8" font-size="20.8" fill="#808080">rpm</text>
<text x="54.8" y="1541" font-size="20.8" fill="#ff0000"><tspan font-size="13" dy="-1.5">1)</tspan><tspan dy="1.5" font-size="20.5"> Correction acc. to DIN 70020</tspan></text>
<text x="74" y="1566" font-size="20.8" fill="#ff0000"><tspan font-size="20.5">Correction factors: Q</tspan><tspan font-size="13.9" dy="5">V</tspan><tspan dy="-5" font-size="20.5"> =&#160;&#160; 0,00 %</tspan></text>
<text x="712.2" y="1309" font-size="20.8" fill="#000">Ambient temperature</text>
<text x="1013" y="1309" font-size="20.8" fill="#000">T<tspan font-size="13.9" dy="5">Ambient</tspan></text>
<text x="1193" y="1309" font-size="20.8" fill="#000" text-anchor="end">21,1</text>
<text x="1210" y="1309" font-size="20.8" fill="#000">°C</text>
<text x="712.2" y="1334.3" font-size="20.8" fill="#000">Intake air temperature</text>
<text x="1013" y="1334.3" font-size="20.8" fill="#000">T<tspan font-size="13.9" dy="5">Intake air</tspan></text>
<text x="1193" y="1334.3" font-size="20.8" fill="#000" text-anchor="end">22,1</text>
<text x="1210" y="1334.3" font-size="20.8" fill="#000">°C</text>
<text x="712.2" y="1359.8" font-size="20.8" fill="#000">Relative humidity</text>
<text x="1013" y="1359.8" font-size="20.8" fill="#000">H<tspan font-size="13.9" dy="5">Air</tspan></text>
<text x="1193" y="1359.8" font-size="20.8" fill="#000" text-anchor="end">54,4</text>
<text x="1210" y="1359.8" font-size="20.8" fill="#000">%</text>
<text x="712.2" y="1385" font-size="20.8" fill="#000">Air pressure</text>
<text x="1013" y="1385" font-size="20.8" fill="#000">p<tspan font-size="13.9" dy="5">Air</tspan></text>
<text x="1193" y="1385" font-size="20.8" fill="#000" text-anchor="end">1024,0</text>
<text x="1210" y="1385" font-size="20.8" fill="#000">hPa</text>
<text x="712.2" y="1410" font-size="20.8" fill="#000">Steam pressure</text>
<text x="1013" y="1410" font-size="20.8" fill="#000">p<tspan font-size="13.9" dy="5">Steam</tspan></text>
<text x="1193" y="1410" font-size="20.8" fill="#000" text-anchor="end">13,6</text>
<text x="1210" y="1410" font-size="20.8" fill="#000">hPa</text>
<text x="712.2" y="1444.8" font-size="20.8" fill="#000">Oil temperature</text>
<text x="1013" y="1444.8" font-size="20.8" fill="#000">T<tspan font-size="13.9" dy="5">Oil</tspan></text>
<text x="1193" y="1444.8" font-size="20.8" fill="#000" text-anchor="end">----,-</text>
<text x="1210" y="1444.8" font-size="20.8" fill="#000">°C</text>
<text x="712.2" y="1470.8" font-size="20.8" fill="#000">Fuel temperature</text>
<text x="1013" y="1470.8" font-size="20.8" fill="#000">T<tspan font-size="13.9" dy="5">Fuel</tspan></text>
<text x="1193" y="1470.8" font-size="20.8" fill="#000" text-anchor="end">----,-</text>
<text x="1210" y="1470.8" font-size="20.8" fill="#000">°C</text>
<g transform="translate(50 40) scale(0.07424)">
<path fill="#cdcdcd" d="M175 120 L1250 120 C1215 330 1050 560 790 640 C720 665 660 680 620 685 L650 548 C830 520 1000 400 1090 215 C800 190 400 150 175 120 Z"/>
<path fill="#cdcdcd" d="M55 568 L430 568 L405 682 L270 685 C420 880 650 1080 1170 1195 C700 1180 300 1000 55 568 Z"/>
<path fill="#472f6f" d="M555 280 L895 308 L645 382 L550 915 L405 795 Z"/>
</g>
<path fill="#e20a16" d="M1208 62.6 A69 69 0 0 1 1315.3 62.6 A69 69 0 0 1 1208 62.6 Z"/>
<path fill="#fff" d="M1265.80 50.00 L1264.80 44.00 L1258.40 44.00 L1257.40 50.00 Z M1273.41 56.63 L1276.94 51.68 L1272.42 47.16 L1267.47 50.69 Z M1274.10 66.70 L1280.10 65.70 L1280.10 59.30 L1274.10 58.30 Z M1267.47 74.31 L1272.42 77.84 L1276.94 73.32 L1273.41 68.37 Z M1257.40 75.00 L1258.40 81.00 L1264.80 81.00 L1265.80 75.00 Z M1249.79 68.37 L1246.26 73.32 L1250.78 77.84 L1255.73 74.31 Z M1249.10 58.30 L1243.10 59.30 L1243.10 65.70 L1249.10 66.70 Z M1255.73 50.69 L1250.78 47.16 L1246.26 51.68 L1249.79 56.63 Z"/>
<circle cx="1261.6" cy="62.5" r="13.6" fill="#fff"/>
<circle cx="1261.6" cy="62.5" r="4.6" fill="#e20a16"/>
<path fill="#0055a5" fill-rule="evenodd" d="M1207 73.5 L1215.1 80.6 L1219.4 93.2 L1224.6 86.5 L1232 90.3 L1232 119.8 L1223.9 119.8 L1223.9 101.7 L1217.5 109.8 L1213.2 99.8 L1209.9 119.8 L1200.9 119.8 Z M1240 93.2 L1255.7 96 L1260.7 119.8 L1253.3 119.8 L1252.2 114.8 L1242.9 114.8 L1241.7 119.8 L1234.6 119.8 Z M1247.4 100.3 L1249.8 108.4 L1245 108.4 Z M1263 96 L1271.6 95.3 L1271.9 105.4 L1280.5 105.4 L1280.5 94 L1289 91 L1289 119.7 L1280.2 119.7 L1280.2 112.4 L1271.9 112.4 L1271.9 119.7 L1263 119.7 Z M1296.4 87.4 L1316.6 73 L1323.1 119.7 L1314 119.7 L1312.8 115.2 L1301.2 115.2 L1299.9 119.7 L1291.3 119.7 Z M1307.5 90.7 L1311.5 108.4 L1302.9 108.4 Z"/>
<text x="1262.5" y="149.7" font-size="20.7" font-style="italic" text-anchor="middle">MSR 500</text></svg></body></html>
